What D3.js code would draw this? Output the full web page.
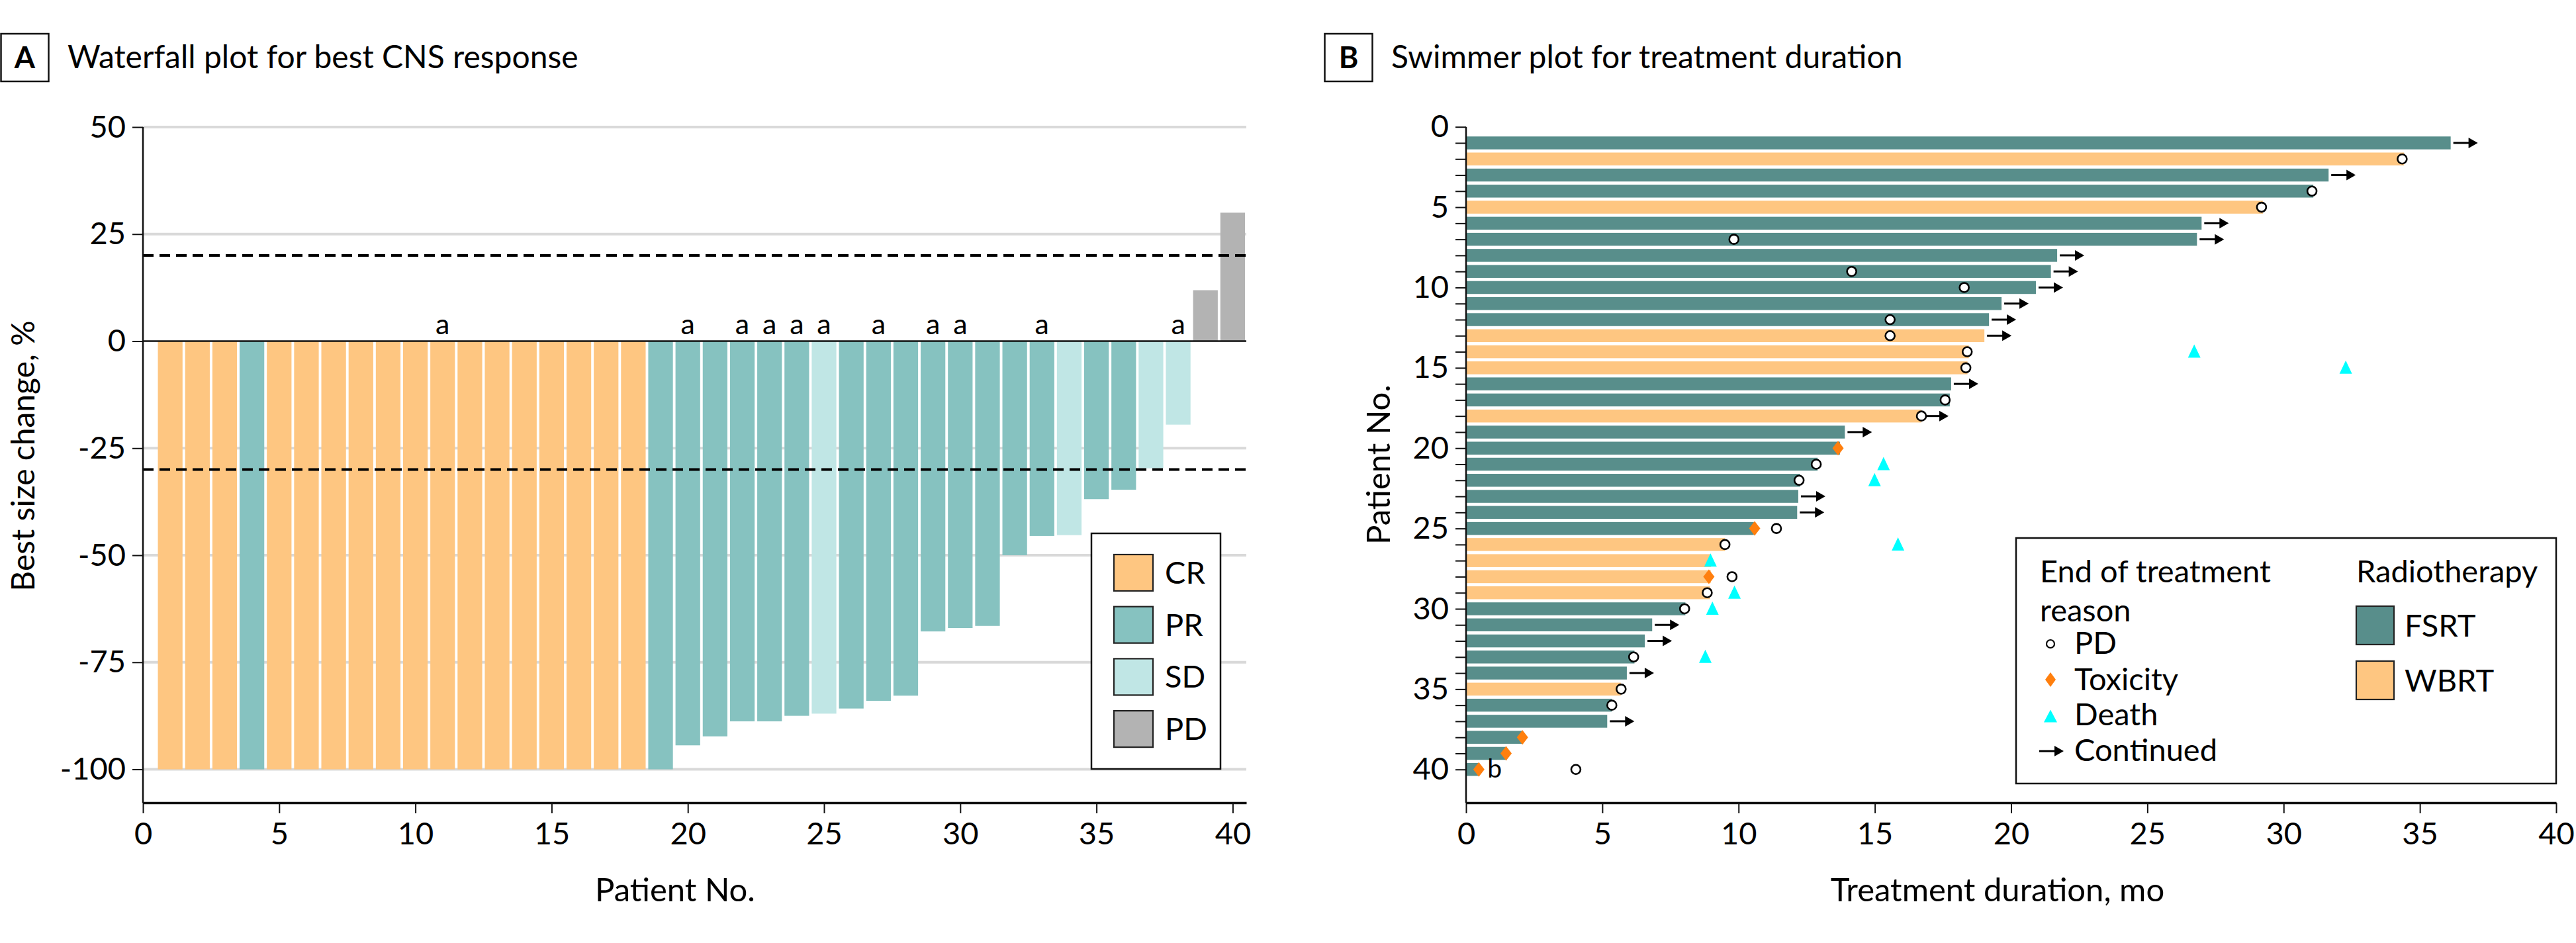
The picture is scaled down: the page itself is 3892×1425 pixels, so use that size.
<!DOCTYPE html>
<html><head><meta charset="utf-8">
<script src="https://cdn.jsdelivr.net/npm/d3@7"></script>
<style>
body{margin:0;background:#fff}
text{font-family:Lato,'Open Sans',sans-serif;fill:#000}
</style>
</head><body>
<svg id="chart" width="3892" height="1425" xmlns="http://www.w3.org/2000/svg"></svg>
<script>
// ---------------- Panel A data ----------------
const patientNo = d3.range(1, 41);
const bestChange = [-100,-100,-100,-100,-100,-100,-100,-100,-100,-100,
                    -100,-100,-100,-100,-100,-100,-100,-100,-100,-94.4,
                    -92.3,-88.8,-88.8,-87.5,-87,-85.8,-84,-82.8,-67.8,-67,
                    -66.5,-50,-45.5,-45.3,-36.9,-34.7,-29.7,-19.5,11.9,30];
const bestResponse = ["CR","CR","CR","PR","CR","CR","CR","CR","CR","CR",
                      "CR","CR","CR","CR","CR","CR","CR","CR","PR","PR",
                      "PR","PR","PR","PR","SD","PR","PR","PR","PR","PR",
                      "PR","PR","PR","SD","PR","PR","SD","SD","PD","PD"];
const footnoteAPatients = [11,20,22,23,24,25,27,29,30,33,38];
const responseCats = ["CR","PR","SD","PD"];
const responseColors = ["#FEC681","#86C2C0","#C0E6E5","#B3B3B3"];
const yTicksA = [50,25,0,-25,-50,-75,-100];
const xTicksA = [0,5,10,15,20,25,30,35,40];
const thresholdLines = [20,-30];

// ---------------- Panel B data ----------------
const duration = [36.13,34.42,31.65,31.09,29.24,26.99,26.82,21.69,21.46,20.91,
                  19.65,19.19,19.02,18.45,18.4,17.8,17.75,16.71,13.9,13.72,
                  12.9,12.26,12.19,12.15,10.56,9.5,8.99,8.98,8.95,8.05,
                  6.83,6.56,6.18,5.9,5.68,5.35,5.18,2.07,1.47,0.47];
const radiotherapy = ["FSRT","WBRT","FSRT","FSRT","WBRT","FSRT","FSRT","FSRT","FSRT","FSRT",
                      "FSRT","FSRT","WBRT","WBRT","WBRT","FSRT","FSRT","WBRT","FSRT","FSRT",
                      "FSRT","FSRT","FSRT","FSRT","FSRT","WBRT","WBRT","WBRT","WBRT","FSRT",
                      "FSRT","FSRT","FSRT","FSRT","WBRT","FSRT","FSRT","FSRT","FSRT","FSRT"];
const therapyCats = ["FSRT","WBRT"];
const therapyColors = ["#588E8B","#FEC681"];
const pdPatient = [2,4,5,7,9,10,12,13,14,15,17,18,21,22,25,26,28,29,30,33,35,36,40];
const pdTime    = [34.35,31.04,29.19,9.83,14.15,18.28,15.56,15.56,18.39,18.34,17.58,16.71,12.85,12.22,11.39,9.5,9.76,8.85,8.02,6.15,5.69,5.35,4.03];
const toxPatient = [20,25,28,38,39,40];
const toxTime    = [13.65,10.59,8.91,2.07,1.47,0.47];
const deathPatient = [14,15,21,22,26,27,29,30,33];
const deathTime    = [26.72,32.28,15.32,14.99,15.85,8.97,9.85,9.04,8.78];
const continuedPatient = [1,3,6,7,8,9,10,11,12,13,16,18,19,23,24,31,32,34,37];
const footnoteBPatients = [40];
const xTicksB = [0,5,10,15,20,25,30,35,40];
const yTicksB = d3.range(0, 41);
const eotLabels = ["PD","Toxicity","Death","Continued"];

// ---------------- drawing ----------------
const svg = d3.select("#chart");
const FS = 47;

function panelTitle(x, letter, title) {
  svg.append("rect").attr("x", x + 1.5).attr("y", 51).attr("width", 72).attr("height", 72)
    .attr("fill", "none").attr("stroke", "#111").attr("stroke-width", 2.5);
  svg.append("text").attr("x", x + 37.5).attr("y", 103).attr("text-anchor", "middle")
    .attr("font-size", 45).attr("font-weight", 700).text(letter);
  svg.append("text").attr("x", x + 102).attr("y", 103).attr("font-size", 48).text(title);
}
panelTitle(0, "A", "Waterfall plot for best CNS response");
panelTitle(2000, "B", "Swimmer plot for treatment duration");

// ===== Panel A =====
const xA = d3.scaleLinear().domain([0, 40.5]).range([216, 1883]);
const yA = d3.scaleLinear().domain([-107.8, 50]).range([1213, 192]);
const colorA = d3.scaleOrdinal().domain(responseCats).range(responseColors);
const gA = svg.append("g");

// gridlines
gA.selectAll("line.grid").data(yTicksA.filter(d => d !== 0)).join("line")
  .attr("x1", xA(0)).attr("x2", xA(40.5)).attr("y1", d => yA(d)).attr("y2", d => yA(d))
  .attr("stroke", "#d9d9d9").attr("stroke-width", 4);

const bw = (xA(1) - xA(0)) * 0.905;
gA.selectAll("rect.bar").data(patientNo).join("rect")
  .attr("x", d => xA(d) - bw / 2)
  .attr("width", bw)
  .attr("y", (d, i) => yA(Math.max(0, bestChange[i])))
  .attr("height", (d, i) => Math.abs(yA(bestChange[i]) - yA(0)))
  .attr("fill", (d, i) => colorA(bestResponse[i]));

// zero line
gA.append("line").attr("x1", xA(0)).attr("x2", xA(40.5)).attr("y1", yA(0)).attr("y2", yA(0))
  .attr("stroke", "#111").attr("stroke-width", 2.5);
// threshold lines
gA.selectAll("line.thr").data(thresholdLines).join("line")
  .attr("x1", xA(0)).attr("x2", xA(40.5)).attr("y1", d => yA(d)).attr("y2", d => yA(d))
  .attr("stroke", "#000").attr("stroke-width", 4).attr("stroke-dasharray", "16,9");

// footnote a
gA.selectAll("text.fa").data(footnoteAPatients).join("text")
  .attr("x", d => xA(d)).attr("y", yA(0) - 11).attr("text-anchor", "middle")
  .attr("font-size", 43).text("a");

function styleAxis(g, domainW) {
  g.selectAll("text").attr("font-size", FS).attr("font-family", "Lato,'Open Sans',sans-serif").attr("fill", "#000");
  g.select(".domain").attr("stroke", "#111").attr("stroke-width", domainW);
  g.selectAll(".tick line").attr("stroke", "#111").attr("stroke-width", 2);
}
const axYA = gA.append("g").attr("transform", `translate(${xA(0)},0)`)
  .call(d3.axisLeft(yA).tickValues(yTicksA).tickSize(16).tickSizeOuter(0).tickPadding(10).tickFormat(d => String(d)));
axYA.select(".domain").attr("d", `M0,${yA(50)}V1213`);
styleAxis(axYA, 2.5);
const axXA = gA.append("g").attr("transform", `translate(0,1213)`)
  .call(d3.axisBottom(xA).tickValues(xTicksA).tickSize(16).tickSizeOuter(0).tickPadding(14));
styleAxis(axXA, 3.5);

gA.append("text").attr("x", 1020).attr("y", 1362).attr("text-anchor", "middle")
  .attr("font-size", 49).text("Patient No.");
gA.append("text").attr("transform", `translate(52,689) rotate(-90)`).attr("text-anchor", "middle")
  .attr("font-size", 48).text("Best size change, %");

// legend A
const legA = gA.append("g");
legA.append("rect").attr("x", 1649).attr("y", 806).attr("width", 195).attr("height", 356)
  .attr("fill", "#fff").attr("stroke", "#111").attr("stroke-width", 2.5);
const legAItems = legA.selectAll("g.it").data(responseCats).join("g")
  .attr("transform", (d, i) => `translate(1683,${838 + i * 78.7})`);
legAItems.append("rect").attr("width", 59).attr("height", 55)
  .attr("fill", d => colorA(d)).attr("stroke", "#222").attr("stroke-width", 2.2);
legAItems.append("text").attr("x", 77).attr("y", 44).attr("font-size", FS).text(d => d);

// ===== Panel B =====
const xB = d3.scaleLinear().domain([0, 40]).range([2215, 3862]);
const yB = d3.scaleLinear().domain([0, 42.07]).range([191.7, 1213]);
const colorB = d3.scaleOrdinal().domain(therapyCats).range(therapyColors);
const gB = svg.append("g");
const bh = 19.5;

gB.selectAll("rect.bar").data(patientNo).join("rect")
  .attr("x", xB(0)).attr("y", d => yB(d) - bh / 2)
  .attr("width", (d, i) => xB(duration[i]) - xB(0)).attr("height", bh)
  .attr("fill", (d, i) => colorB(radiotherapy[i]));

// continued arrows
function arrow(g, x, y) {
  g.append("line").attr("x1", x).attr("x2", x + 26).attr("y1", y).attr("y2", y)
    .attr("stroke", "#000").attr("stroke-width", 3);
  g.append("path").attr("d", `M${x + 23},${y - 8}L${x + 37},${y}L${x + 23},${y + 8}Z`).attr("fill", "#000");
}
continuedPatient.forEach(p => arrow(gB, xB(duration[p - 1]) + 4, yB(p)));

const diamondPath = (w, h) => `M0,${-h / 2}L${w / 2},0L0,${h / 2}L${-w / 2},0Z`;
const trianglePath = (w, h) => `M0,${-h / 2}L${w / 2},${h / 2}L${-w / 2},${h / 2}Z`;

// toxicity diamonds
gB.selectAll("path.tox").data(toxPatient).join("path")
  .attr("transform", (d, i) => `translate(${xB(toxTime[i])},${yB(d)})`)
  .attr("d", diamondPath(17, 22)).attr("fill", "#FF7F0E");
// death triangles
gB.selectAll("path.death").data(deathPatient).join("path")
  .attr("transform", (d, i) => `translate(${xB(deathTime[i])},${yB(d) - 1})`)
  .attr("d", trianglePath(19, 20)).attr("fill", "#00FFFF");
// PD circles
gB.selectAll("circle.pd").data(pdPatient).join("circle")
  .attr("cx", (d, i) => xB(pdTime[i])).attr("cy", d => yB(d)).attr("r", 7)
  .attr("fill", "#fff").attr("stroke", "#000").attr("stroke-width", 2.6);
// footnote b
gB.selectAll("text.fb").data(footnoteBPatients).join("text")
  .attr("x", d => xB(duration[d - 1]) + 13).attr("y", d => yB(d) + 12)
  .attr("font-size", 39).text("b");

const axYB = gB.append("g").attr("transform", `translate(${xB(0)},0)`)
  .call(d3.axisLeft(yB).tickValues(yTicksB).tickSize(16).tickSizeOuter(0).tickPadding(10)
    .tickFormat(d => d % 5 === 0 ? String(d) : ""));
axYB.select(".domain").attr("d", `M0,${yB(0)}V1213`);
styleAxis(axYB, 2.5);
const axXB = gB.append("g").attr("transform", `translate(0,1213)`)
  .call(d3.axisBottom(xB).tickValues(xTicksB).tickSize(16).tickSizeOuter(0).tickPadding(14));
styleAxis(axXB, 3.5);

gB.append("text").attr("x", 3018).attr("y", 1362).attr("text-anchor", "middle")
  .attr("font-size", 49).text("Treatment duration, mo");
gB.append("text").attr("transform", `translate(2100,702) rotate(-90)`).attr("text-anchor", "middle")
  .attr("font-size", 49).text("Patient No.");

// legend B
const legB = gB.append("g");
legB.append("rect").attr("x", 3046).attr("y", 813).attr("width", 3862 - 3046).attr("height", 371)
  .attr("fill", "#fff").attr("stroke", "#111").attr("stroke-width", 2.5);
legB.append("text").attr("x", 3082).attr("y", 880).attr("font-size", FS).text("End of treatment");
legB.append("text").attr("x", 3082).attr("y", 939).attr("font-size", FS).text("reason");
const eotY = [973, 1027, 1082, 1135];
const eotBase = [988, 1043, 1096, 1150];
legB.append("circle").attr("cx", 3098).attr("cy", eotY[0]).attr("r", 6)
  .attr("fill", "#fff").attr("stroke", "#000").attr("stroke-width", 2.2);
legB.append("path").attr("transform", `translate(3098,${eotY[1]})`).attr("d", diamondPath(16, 22)).attr("fill", "#FF7F0E");
legB.append("path").attr("transform", `translate(3098,${eotY[2]})`).attr("d", trianglePath(20, 19)).attr("fill", "#00FFFF");
arrow(legB, 3081, eotY[3]);
legB.selectAll("text.eot").data(eotLabels).join("text")
  .attr("x", 3134).attr("y", (d, i) => eotBase[i]).attr("font-size", FS).text(d => d);

legB.append("text").attr("x", 3560).attr("y", 880).attr("font-size", FS).text("Radiotherapy");
const legBItems = legB.selectAll("g.rt").data(therapyCats).join("g")
  .attr("transform", (d, i) => `translate(3560,${916 + i * 83})`);
legBItems.append("rect").attr("width", 57).attr("height", 58)
  .attr("fill", d => colorB(d)).attr("stroke", "#222").attr("stroke-width", 2.2);
legBItems.append("text").attr("x", 73).attr("y", 46).attr("font-size", FS).text(d => d);
</script>
</body></html>
